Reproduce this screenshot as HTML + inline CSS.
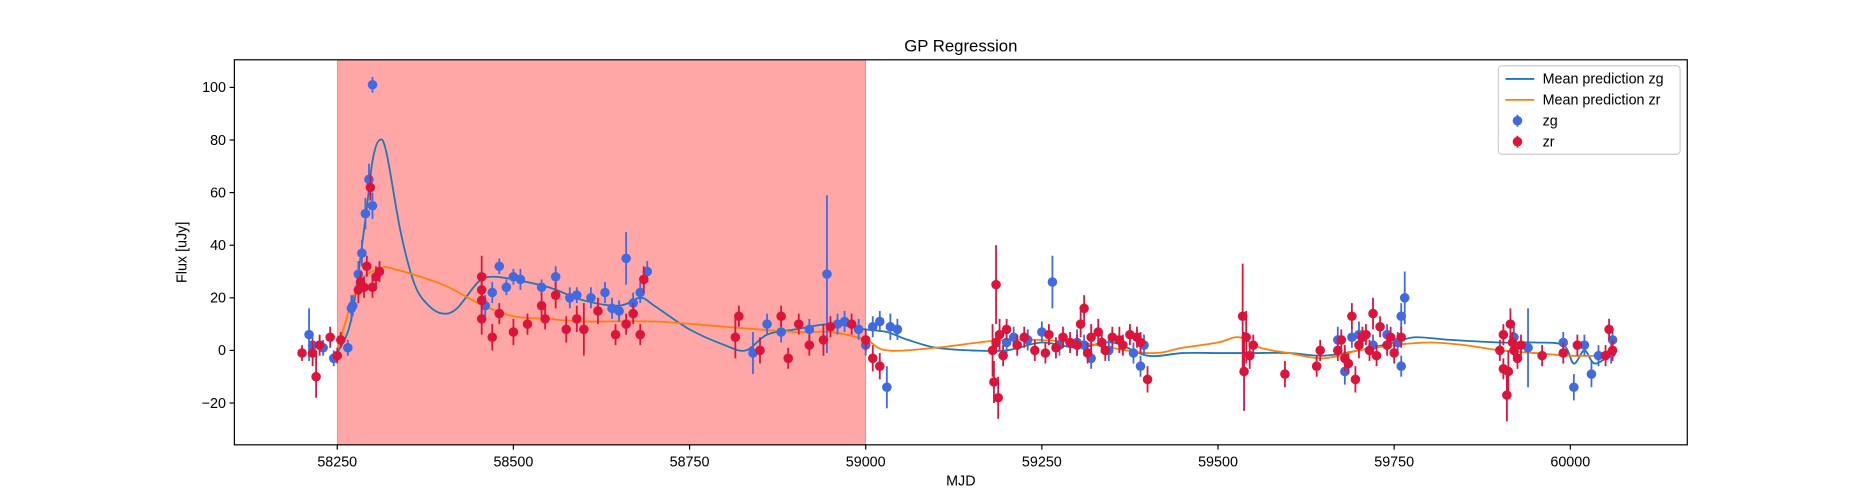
<!DOCTYPE html>
<html><head><meta charset="utf-8"><style>
body{margin:0;background:#fff;}
svg{display:block;font-family:"Liberation Sans","DejaVu Sans",sans-serif;}
</style></head><body>
<svg id="chart" width="1875" height="500">
<rect width="1875" height="500" fill="#fff"/>
<g transform="scale(1.1958)">
<g id="shade"></g>
<g id="lines"></g>
<g id="pts"></g>
<g id="axes"></g>
</g>
</svg>
<script>
const xTicks=[58250,58500,58750,59000,59250,59500,59750,60000];
const yTicks=[-20,0,20,40,60,80,100];
const shadeRange=[58250,59000];
const zgMJD=[58210,58215,58230,58245,58265,58270,58272,58280,58285,58290,58295,58300,58300,58460,58470,58480,58490,58500,58510,58540,58560,58580,58590,58610,58630,58640,58650,58660,58670,58680,58690,58840,58860,58880,58920,58945,58960,58970,58990,59000,59010,59020,59030,59035,59045,59200,59250,59265,59300,59320,59380,59390,59670,59680,59700,59760,59765,59760,59920,59940,59990,60005,60020,60030,60060,59210,59230,59275,59310,59345,59395,59690,59720,59740,59755,60040,60058];
const zgFlux=[6,2,1,-3,1,16,17,29,37,52,65,55,101,17,22,32,24,28,27,24,28,20,21,20,22,16,15,35,18,22,30,-1,10,7,8,29,10,11,8,2,9,11,-14,9,8,3,7,26,3,-3,-1,-6,4,-8,6,13,20,-6,5,1,3,-14,2,-9,4,5,4,2,2,0,2,5,2,6,3,-2,-1];
const zgErr=[10,3,3,3,3,5,4,5,5,6,6,5,3,4,4,3,3,3,4,3,4,4,3,4,4,4,4,10,4,4,4,8,4,4,4,30,4,4,4,4,4,4,8,5,4,4,4,10,5,4,4,4,5,5,5,5,10,4,4,15,4,5,4,5,4,4,4,4,4,4,4,4,4,4,4,4,4];
const zrMJD=[58200,58215,58220,58225,58240,58250,58255,58280,58283,58288,58292,58297,58300,58305,58310,58455,58455,58455,58455,58470,58480,58500,58520,58540,58545,58560,58575,58590,58600,58620,58645,58660,58670,58680,58685,58815,58820,58850,58880,58890,58905,58920,58940,58950,58980,59000,59010,59020,59180,59182,59185,59188,59190,59200,59215,59240,59260,59270,59290,59305,59310,59320,59330,59340,59360,59375,59390,59400,59535,59537,59540,59545,59550,59595,59640,59645,59680,59690,59695,59700,59710,59720,59740,59750,59760,59905,59910,59912,59915,59920,59960,59990,60010,60050,60055,60060,59185,59195,59225,59255,59280,59300,59315,59335,59350,59365,59385,59670,59675,59685,59705,59715,59725,59730,59745,59900,59905,59918,59925,59930];
const zrFlux=[-1,-1,-10,2,5,-2,4,23,26,24,32,62,24,28,30,28,23,19,12,5,14,7,10,17,12,21,8,12,8,15,6,10,14,6,27,5,13,0,13,-3,10,2,4,9,10,4,-3,-6,0,-12,25,-18,6,8,2,0,6,1,3,10,16,5,7,0,4,6,3,-11,13,-8,5,-2,2,-9,-6,0,-3,13,-11,2,6,14,2,-1,5,6,-17,-8,10,0,-2,-1,2,-2,8,0,3,-2,5,-1,5,2,-1,3,5,2,5,0,4,-5,5,0,-2,9,5,0,-7,3,-3,2];
const zrErr=[3,5,8,4,4,3,3,5,4,4,4,5,4,4,4,8,6,6,6,5,4,5,4,5,4,5,5,5,10,5,4,4,4,4,5,8,4,5,4,4,4,4,6,4,4,4,5,5,10,8,15,8,6,4,4,4,4,4,4,5,5,5,5,4,5,4,4,5,20,15,10,5,4,5,4,4,5,5,5,5,4,6,4,4,4,4,10,8,6,4,4,4,4,4,4,4,4,4,4,4,4,4,4,4,4,4,4,4,4,4,4,4,4,4,4,4,4,4,4,4];
const zgMeanX=[58250,58270,58290,58300,58310,58320,58340,58360,58380,58400,58420,58450,58470,58500,58550,58600,58650,58680,58700,58750,58800,58830,58860,58900,58950,59000,59030,59060,59100,59150,59200,59250,59300,59350,59400,59450,59500,59550,59600,59650,59700,59750,59780,59830,59900,59950,59990,60005,60020,60035,60060];
const zgMeanY=[-1,12,50,72,80,75,45,25,17,14,16,26,28,27,24,19,17,20,17,8,2,0,6,8,10,8,7,4,1,0,0,3,1,3,-2,-1,-1,-1,-1,-2,0,3,5,4,3,3,2,-5,0,-5,-1];
const zrMeanX=[58250,58280,58310,58330,58400,58450,58500,58550,58600,58700,58800,58900,58950,59000,59030,59100,59200,59300,59400,59450,59500,59530,59560,59600,59650,59700,59750,59800,59850,59900,59950,60000,60060];
const zrMeanY=[0,25,31,31,25,18,13,12,11,11,9,7,7,4,0,1,4,3,-1,1,3,5,1,-1,-3,0,2,3,2,0,-1,-2,-2];

const L=196,R=1411,T=50,B=372,X0=58104,X1=60166,Y0=-35.9,Y1=110.5;
const sx=v=>L+(v-X0)/(X1-X0)*(R-L);
const sy=v=>B-(v-Y0)/(Y1-Y0)*(B-T);
const NS='http://www.w3.org/2000/svg';
function mk(tag,attrs,parent,txt){const e=document.createElementNS(NS,tag);for(const k in attrs)e.setAttribute(k,attrs[k]);if(txt!==undefined)e.textContent=txt;document.getElementById(parent).appendChild(e);return e;}

const sh=mk('rect',{x:sx(shadeRange[0]),y:T,width:sx(shadeRange[1])-sx(shadeRange[0]),height:B-T,fill:'#ffa7a7',stroke:'#e08080','stroke-width':0.5},'shade');



function line(xs,ys,color,name){
  const P=xs.map((x,i)=>[sx(x),sy(ys[i])]);
  let d='M'+P[0][0]+','+P[0][1];
  for(let i=0;i<P.length-1;i++){
    const p0=P[Math.max(0,i-1)],p1=P[i],p2=P[i+1],p3=P[Math.min(P.length-1,i+2)];
    const c1=[p1[0]+(p2[0]-p0[0])/6,p1[1]+(p2[1]-p0[1])/6];
    const c2=[p2[0]-(p3[0]-p1[0])/6,p2[1]-(p3[1]-p1[1])/6];
    d+=' C'+c1[0]+','+c1[1]+' '+c2[0]+','+c2[1]+' '+p2[0]+','+p2[1];
  }
  const p=mk('path',{d:d,fill:'none',stroke:color,'stroke-width':1.5},'lines');
  
  
}
line(zgMeanX,zgMeanY,'#1f77b4','mean-line-zg');
line(zrMeanX,zrMeanY,'#ff7f0e','mean-line-zr');

function pts(xs,ys,es,color,name){
  xs.forEach((x,i)=>{
    const l=mk('line',{x1:sx(x),x2:sx(x),y1:sy(ys[i]-es[i]),y2:sy(ys[i]+es[i]),stroke:color,'stroke-width':1.5},'pts');
    
    
    const c=mk('circle',{cx:sx(x),cy:sy(ys[i]),r:4,fill:color},'pts');
    
    
  });
}
pts(zgMJD,zgFlux,zgErr,'#4169e1','zg');
pts(zrMJD,zrFlux,zrErr,'#dc143c','zr');

const fr=mk('rect',{x:L,y:T,width:R-L,height:B-T,fill:'none',stroke:'#000','stroke-width':1},'axes');


xTicks.forEach(v=>{
  mk('line',{x1:sx(v),x2:sx(v),y1:B,y2:B+4,stroke:'#000'},'axes');
  const t=mk('text',{x:sx(v),y:B+18,'text-anchor':'middle','font-size':12},'axes',v);
  
  
});
yTicks.forEach(v=>{
  mk('line',{x1:L-4,x2:L,y1:sy(v),y2:sy(v),stroke:'#000'},'axes');
  const t=mk('text',{x:L-7,y:sy(v)+4,'text-anchor':'end','font-size':12},'axes',v<0?'\u2212'+(-v):v);
  
  
});
let t=mk('text',{x:(L+R)/2,y:43,'text-anchor':'middle','font-size':14},'axes','GP Regression');

t=mk('text',{x:(L+R)/2,y:406,'text-anchor':'middle','font-size':12},'axes','MJD');

t=mk('text',{x:156,y:211,'text-anchor':'middle','font-size':12,transform:'rotate(-90 156 211)'},'axes','Flux [uJy]');


const lg=mk('rect',{x:1253,y:55,width:152,height:74,rx:3,fill:'#fff','fill-opacity':0.8,stroke:'#ccc'},'axes');

const items=[['line','#1f77b4','Mean prediction zg'],['line','#ff7f0e','Mean prediction zr'],['pt','#4169e1','zg'],['pt','#dc143c','zr']];
items.forEach((it,i)=>{
  const y=66+i*17.5;
  if(it[0]==='line') mk('line',{x1:1259,x2:1283,y1:y,y2:y,stroke:it[1],'stroke-width':1.5},'axes');
  else{mk('line',{x1:1269,x2:1269,y1:y-5,y2:y+5,stroke:it[1],'stroke-width':1.5},'axes');mk('circle',{cx:1269,cy:y,r:4,fill:it[1]},'axes');}
  const e=mk('text',{x:1290,y:y+4,'font-size':12},'axes',it[2]);
  
});
</script>
</body></html>
